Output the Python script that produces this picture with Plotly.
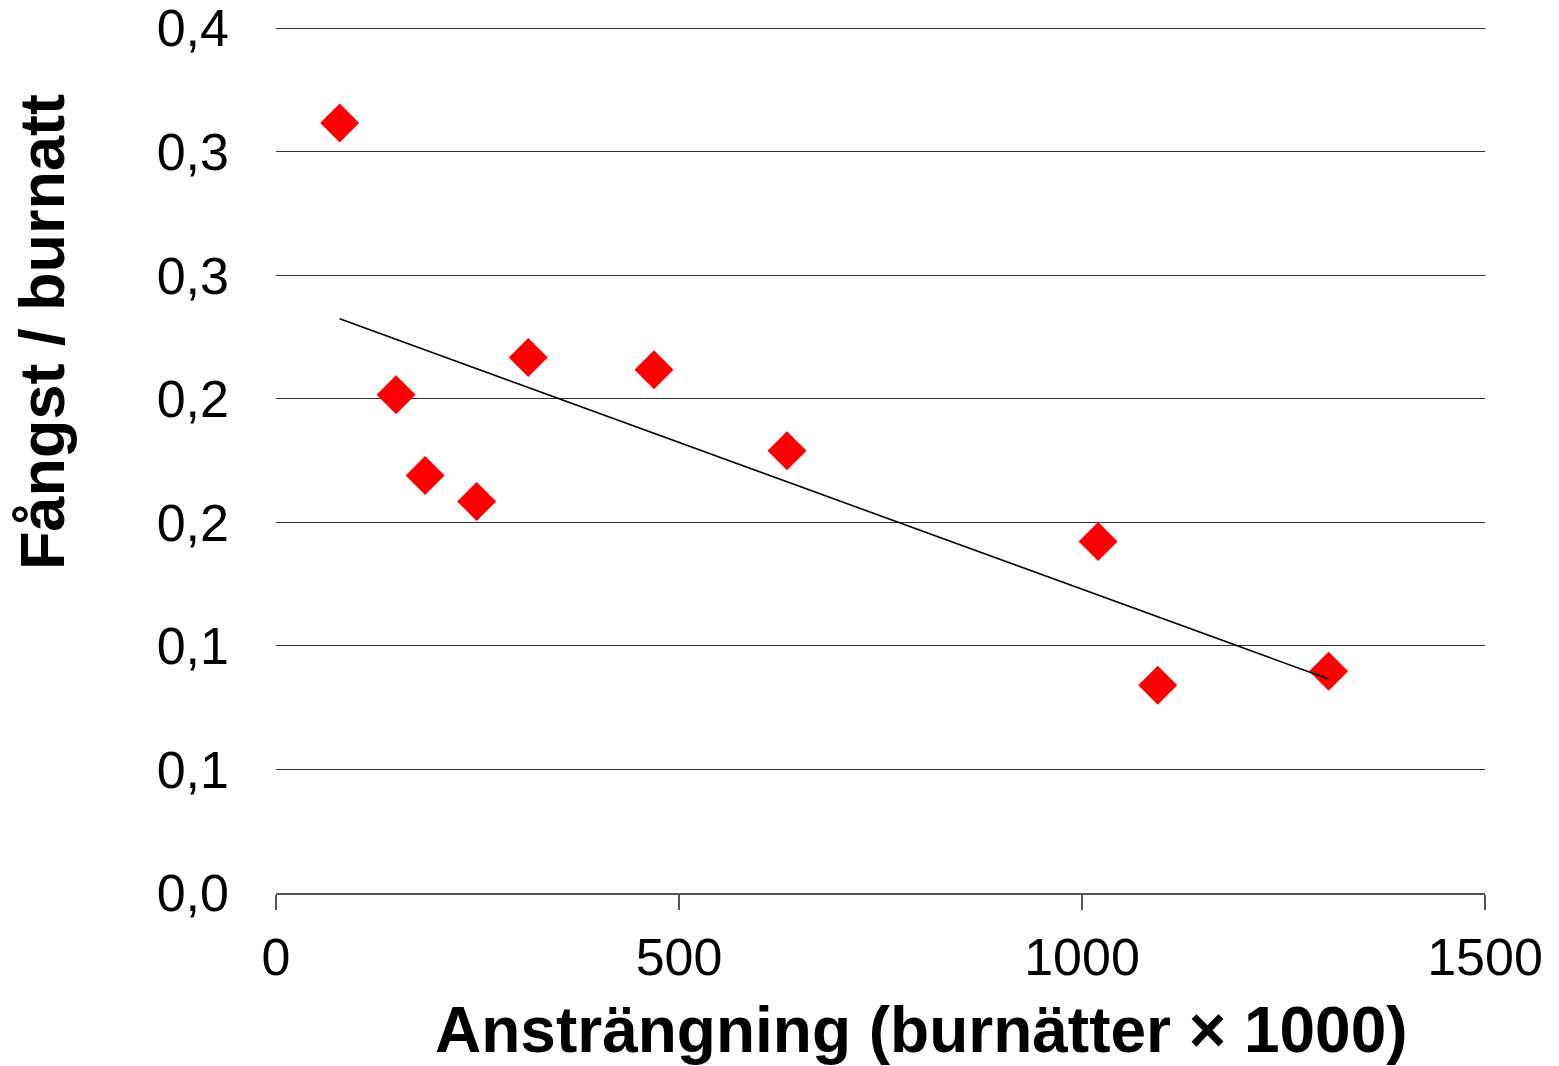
import numpy as np
import plotly.graph_objects as go

# data
effort = [79, 149, 185, 249, 313, 469, 634, 1020, 1094, 1306]
catch_per_net = [0.3116, 0.2017, 0.169, 0.1585, 0.2167, 0.2118, 0.179, 0.1423, 0.0841, 0.0897]

y_tickvals = [0, 0.05, 0.1, 0.15, 0.2, 0.25, 0.3, 0.35]
y_ticktext = ["0,0", "0,1", "0,1", "0,2", "0,2", "0,3", "0,3", "0,4"]
x_tickvals = [0, 500, 1000, 1500]

# linear trendline
slope, intercept = np.polyfit(effort, catch_per_net, 1)
trend_x = [min(effort), max(effort)]
trend_y = [slope * v + intercept for v in trend_x]

fig = go.Figure()
fig.add_trace(go.Scatter(x=effort, y=catch_per_net, mode="markers",
                         marker=dict(symbol="diamond", size=30, color="#FF0000",
                                     line=dict(width=0)),
                         showlegend=False))
fig.add_trace(go.Scatter(x=trend_x, y=trend_y, mode="lines",
                         line=dict(color="black", width=1.6),
                         showlegend=False))

# page has an 8px body margin, so the figure is a bit smaller than the window
fig.update_layout(width=1551, height=1058,
                  margin=dict(l=268, r=74, t=19, b=173),
                  plot_bgcolor="white", paper_bgcolor="white",
                  font=dict(family="Liberation Sans, Arial", size=52, color="black"))

fig.update_xaxes(range=[0, 1500], tickvals=x_tickvals, showgrid=False,
                 showline=True, linecolor="#555", linewidth=1.5,
                 ticks="outside", ticklen=15, tickcolor="#555", tickwidth=1.5,
                 ticklabelstandoff=3, zeroline=False, automargin=False)
fig.update_yaxes(range=[0, 0.3505], tickvals=y_tickvals, ticktext=y_ticktext,
                 showgrid=True, gridcolor="#333", gridwidth=1.2,
                 showline=False, zeroline=False, ticks="",
                 ticklabelstandoff=46, ticklabeloverflow="allow", automargin=False)

fig.add_annotation(text="<b>Ansträngning (burnätter × 1000)</b>",
                   xref="paper", yref="paper", x=(921 - 276) / 1209, y=-(1030 - 893) / 866,
                   xanchor="center", yanchor="middle", showarrow=False,
                   font=dict(size=64))
fig.add_annotation(text="<b>Fångst / burnatt</b>", textangle=-90,
                   xref="paper", yref="paper", x=(42 - 276) / 1209, y=(893 - 332) / 866,
                   xanchor="center", yanchor="middle", showarrow=False,
                   font=dict(size=63))

fig.write_html("out.html")
